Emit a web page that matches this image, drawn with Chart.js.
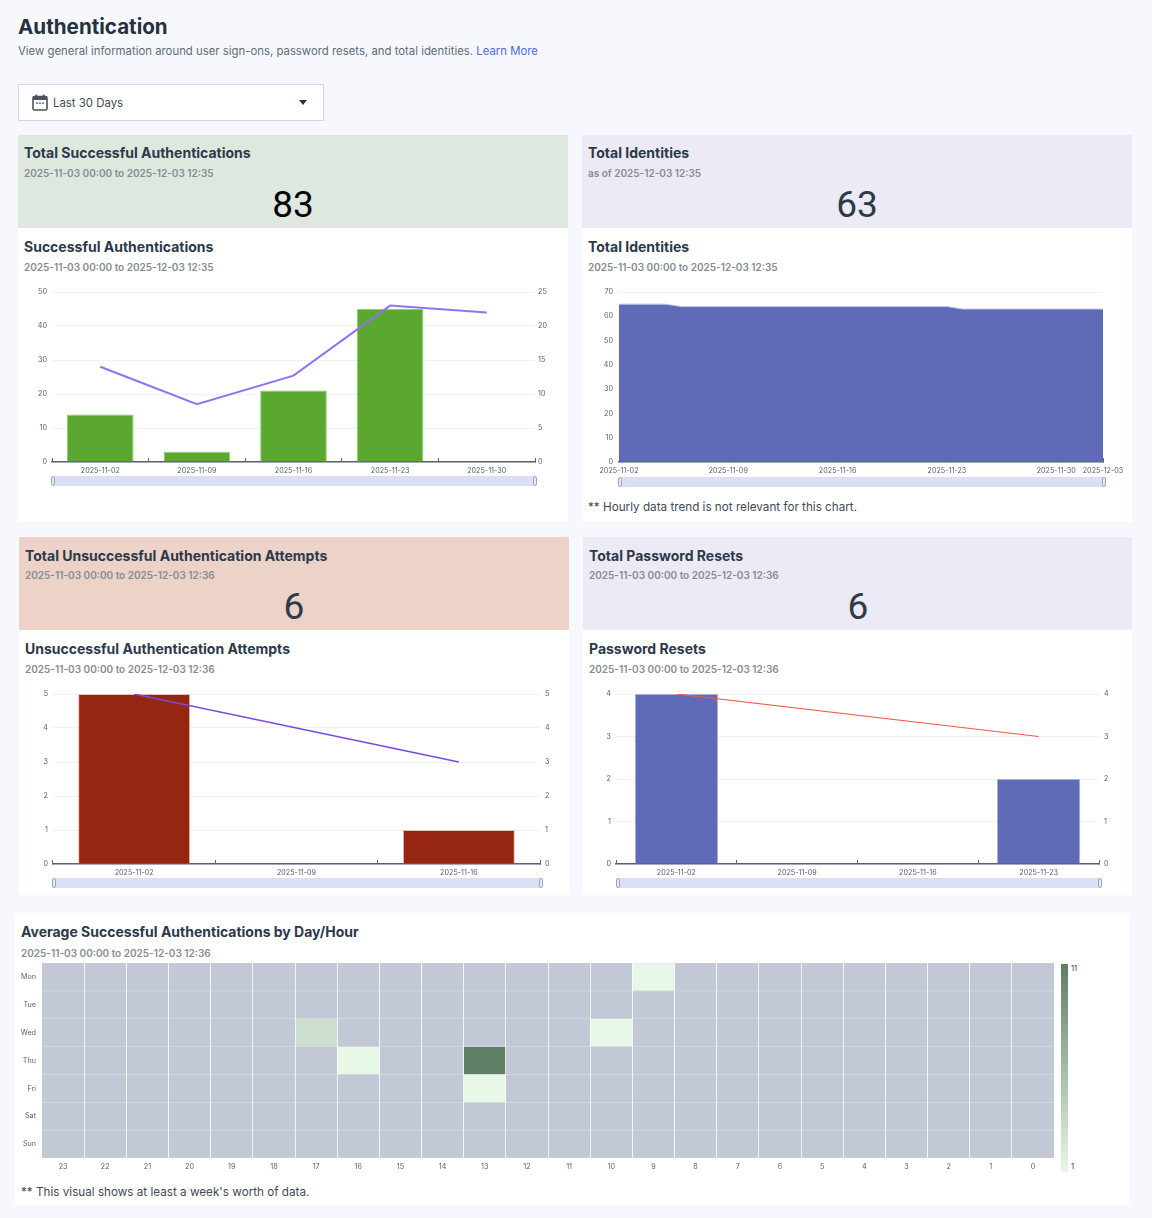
<!DOCTYPE html>
<html>
<head>
<meta charset="utf-8">
<title>Authentication</title>
<script src="https://cdn.jsdelivr.net/npm/chart.js@4/dist/chart.umd.js"></script>
<style>
  html, body { margin: 0; padding: 0; }
  body { width: 1152px; height: 1218px; background: #f6f8fe; position: relative; overflow: hidden;
         font-family: Inter, "Noto Sans", sans-serif; color: #2b3a4a; }
  .abs { position: absolute; white-space: nowrap; }
  canvas { position: absolute; }
  h1 { position: absolute; left: 18px; top: 14px; margin: 0; font-size: 20.6px; line-height: 26px; font-weight: 700; color: #243240; }
  .sub { left: 18px; top: 44px; font-size: 11.36px; line-height: 15px; color: #5f6b78; }
  .sub a { color: #5468e0; text-decoration: none; }
  .select { position: absolute; left: 18px; top: 84px; width: 304px; height: 35px; background: #fff; border: 1px solid #d3d6dc; }
  .select span { position: absolute; left: 34px; top: 11px; font-size: 11.4px; line-height: 15px; color: #3f4a57; }
  .select svg { position: absolute; left: 13px; top: 9px; }
  .caret { position: absolute; left: 280px; top: 15px; width: 0; height: 0; border-left: 4.5px solid transparent; border-right: 4.5px solid transparent; border-top: 5px solid #2d3640; }
  .kpi, .card { position: absolute; }
  .t { position: absolute; white-space: nowrap; font-size: 14px; line-height: 18px; font-weight: 700; color: #2b3a4a; }
  .d { position: absolute; white-space: nowrap; font-size: 10px; line-height: 13px; font-weight: 600; color: #858c96; }
  .n { position: absolute; text-align: center; font-family: Roboto, sans-serif; font-size: 37px; line-height: 40px; font-weight: 400; color: #2d3b4a; width: 100px; }
  .note { position: absolute; white-space: nowrap; font-size: 11.7px; line-height: 15px; color: #3f4a57; }
  .slider { position: absolute; height: 10px; background: #dadff6; }
  .slider i { position: absolute; top: 0; width: 2px; height: 8px; border: 1px solid #a0a6bb; border-radius: 2px; background: #e6e9f5; }
  .slider i.l { left: -2px; } .slider i.r { right: -2px; }
  .colorbar { position: absolute; left: 1061px; top: 964px; width: 7px; height: 208px; background: linear-gradient(#5f7f64, #e7f7e8); }
  .cb { position: absolute; left: 1071px; font-size: 7.5px; line-height: 9px; color: #333; }
</style>
</head>
<body>
<h1>Authentication</h1>
<div class="abs sub">View general information around user sign-ons, password resets, and total identities. <a>Learn More</a></div>
<div class="select">
  <svg width="16" height="17" viewBox="0 0 16 17"><rect x="1" y="2.5" width="14" height="13.5" rx="1.5" fill="#fff" stroke="#4a5260" stroke-width="1.6"/><rect x="1" y="2.5" width="14" height="3.5" fill="#4a5260"/><rect x="3.5" y="0.5" width="1.6" height="3" fill="#4a5260"/><rect x="10.9" y="0.5" width="1.6" height="3" fill="#4a5260"/><rect x="4" y="8.5" width="2" height="1.2" fill="#4a5260"/><rect x="7" y="8.5" width="2" height="1.2" fill="#4a5260"/><rect x="10" y="8.5" width="2" height="1.2" fill="#4a5260"/></svg>
  <span>Last 30 Days</span><div class="caret"></div>
</div>

<div class="kpi" style="left:18px;top:135px;width:550px;height:93px;background:#dfe8df"></div>
<div class="card" style="left:18px;top:228px;width:550px;height:294px;background:#fff"></div>
<div class="kpi" style="left:582px;top:135px;width:550px;height:93px;background:#eceaf5"></div>
<div class="card" style="left:582px;top:228px;width:550px;height:294px;background:#fff"></div>
<div class="kpi" style="left:19px;top:537px;width:550px;height:93px;background:#ecd2c7"></div>
<div class="card" style="left:19px;top:630px;width:550px;height:265px;background:#fff"></div>
<div class="kpi" style="left:583px;top:537px;width:549px;height:93px;background:#eceaf5"></div>
<div class="card" style="left:583px;top:630px;width:549px;height:265px;background:#fff"></div>
<div class="card" style="left:15px;top:913px;width:1114px;height:292px;background:#fff"></div>

<div class="t" style="left:24px;top:144px">Total Successful Authentications</div>
<div class="d" style="left:24px;top:167px">2025-11-03 00:00 to 2025-12-03 12:35</div>
<div class="n" style="left:243px;top:185px;color:#000">83</div>
<div class="t" style="left:24px;top:238px">Successful Authentications</div>
<div class="d" style="left:24px;top:261px">2025-11-03 00:00 to 2025-12-03 12:35</div>

<div class="t" style="left:588px;top:144px">Total Identities</div>
<div class="d" style="left:588px;top:167px">as of 2025-12-03 12:35</div>
<div class="n" style="left:807px;top:185px">63</div>
<div class="t" style="left:588px;top:238px">Total Identities</div>
<div class="d" style="left:588px;top:261px">2025-11-03 00:00 to 2025-12-03 12:35</div>
<div class="note" style="left:588px;top:500px">** Hourly data trend is not relevant for this chart.</div>

<div class="t" style="left:25px;top:547px">Total Unsuccessful Authentication Attempts</div>
<div class="d" style="left:25px;top:569px">2025-11-03 00:00 to 2025-12-03 12:36</div>
<div class="n" style="left:244px;top:587px">6</div>
<div class="t" style="left:25px;top:640px">Unsuccessful Authentication Attempts</div>
<div class="d" style="left:25px;top:663px">2025-11-03 00:00 to 2025-12-03 12:36</div>

<div class="t" style="left:589px;top:547px">Total Password Resets</div>
<div class="d" style="left:589px;top:569px">2025-11-03 00:00 to 2025-12-03 12:36</div>
<div class="n" style="left:808px;top:587px">6</div>
<div class="t" style="left:589px;top:640px">Password Resets</div>
<div class="d" style="left:589px;top:663px">2025-11-03 00:00 to 2025-12-03 12:36</div>

<div class="t" style="left:21px;top:923px">Average Successful Authentications by Day/Hour</div>
<div class="d" style="left:21px;top:947px">2025-11-03 00:00 to 2025-12-03 12:36</div>
<div class="note" style="left:21px;top:1185px">** This visual shows at least a week's worth of data.</div>

<canvas id="successChart" width="540" height="200" style="left:24px;top:284px"></canvas>
<canvas id="identityChart" width="540" height="200" style="left:590px;top:284px"></canvas>
<canvas id="failChart" width="540" height="193" style="left:25px;top:686px"></canvas>
<canvas id="resetChart" width="540" height="193" style="left:588px;top:686px"></canvas>
<canvas id="heatChart" width="1045" height="225" style="left:15px;top:955px"></canvas>

<div class="slider" style="left:53px;top:476px;width:482px"><i class="l"></i><i class="r"></i></div>
<div class="slider" style="left:620px;top:477px;width:484px"><i class="l"></i><i class="r"></i></div>
<div class="slider" style="left:54px;top:878px;width:487px"><i class="l"></i><i class="r"></i></div>
<div class="slider" style="left:618px;top:878px;width:482px"><i class="l"></i><i class="r"></i></div>

<div class="colorbar"></div>
<div class="cb" style="top:964px">11</div>
<div class="cb" style="top:1162px">1</div>

<script>
/*------------------------------Data------------------------------------*/
const successWeeks = ["2025-11-02", "2025-11-09", "2025-11-16", "2025-11-23", "2025-11-30"];
const successCounts = [14, 3, 21, 45, null];
const successTrend = [14, 8.5, 12.7, 23, 22];

const identityDays = ["2025-11-02", "2025-11-03", "2025-11-04", "2025-11-05", "2025-11-06", "2025-11-07", "2025-11-08", "2025-11-09",
  "2025-11-10", "2025-11-11", "2025-11-12", "2025-11-13", "2025-11-14", "2025-11-15", "2025-11-16", "2025-11-17",
  "2025-11-18", "2025-11-19", "2025-11-20", "2025-11-21", "2025-11-22", "2025-11-23", "2025-11-24", "2025-11-25",
  "2025-11-26", "2025-11-27", "2025-11-28", "2025-11-29", "2025-11-30", "2025-12-01", "2025-12-02", "2025-12-03"];
const identityCounts = [65, 65, 65, 65, 64, 64, 64, 64, 64, 64, 64, 64, 64, 64, 64, 64,
  64, 64, 64, 64, 64, 64, 63, 63, 63, 63, 63, 63, 63, 63, 63, 63];
const identityTicks = ["2025-11-02", "2025-11-09", "2025-11-16", "2025-11-23", "2025-11-30", "2025-12-03"];

const failWeeks = ["2025-11-02", "2025-11-09", "2025-11-16"];
const failCounts = [5, null, 1];
const failTrend = [5, null, 3];

const resetWeeks = ["2025-11-02", "2025-11-09", "2025-11-16", "2025-11-23"];
const resetCounts = [4, null, null, 2];
const resetTrend = [4, null, null, 3];

const heatHours = ["23", "22", "21", "20", "19", "18", "17", "16", "15", "14", "13", "12", "11", "10", "9", "8", "7", "6", "5", "4", "3", "2", "1", "0"];
const heatDays = ["Mon", "Tue", "Wed", "Thu", "Fri", "Sat", "Sun"];
const monCells = [0, 0, 0, 0, 0, 0, 0, 0, 0, 0, 0, 0, 0, 0, 1, 0, 0, 0, 0, 0, 0, 0, 0, 0];
const tueCells = [0, 0, 0, 0, 0, 0, 0, 0, 0, 0, 0, 0, 0, 0, 0, 0, 0, 0, 0, 0, 0, 0, 0, 0];
const wedCells = [0, 0, 0, 0, 0, 0, 3, 0, 0, 0, 0, 0, 0, 1, 0, 0, 0, 0, 0, 0, 0, 0, 0, 0];
const thuCells = [0, 0, 0, 0, 0, 0, 0, 1, 0, 0, 11, 0, 0, 0, 0, 0, 0, 0, 0, 0, 0, 0, 0, 0];
const friCells = [0, 0, 0, 0, 0, 0, 0, 0, 0, 0, 1, 0, 0, 0, 0, 0, 0, 0, 0, 0, 0, 0, 0, 0];
const satCells = [0, 0, 0, 0, 0, 0, 0, 0, 0, 0, 0, 0, 0, 0, 0, 0, 0, 0, 0, 0, 0, 0, 0, 0];
const sunCells = [0, 0, 0, 0, 0, 0, 0, 0, 0, 0, 0, 0, 0, 0, 0, 0, 0, 0, 0, 0, 0, 0, 0, 0];
const heatRows = [monCells, tueCells, wedCells, thuCells, friCells, satCells, sunCells];

/*------------------------------Shared axis helpers------------------------------------*/
const tickFont = { family: "Inter", size: 7.2 };
const tickColor = "#5b6068";
// fixed axis sizes so the plot areas land where they should, no auto padding from labels
const fitWidth = w => (axis => { axis.width = w; axis.paddingTop = 0; axis.paddingBottom = 0; });
const fitHeight = h => (axis => { axis.height = h; axis.paddingLeft = 0; axis.paddingRight = 0; });

function bottomAxis(height) {
  return {
    afterFit: fitHeight(height),
    grid: { drawOnChartArea: false, tickLength: -4, tickColor: "#5c6270", tickWidth: 1 },
    border: { color: "#5c6270", width: 1.5 },
    ticks: { font: tickFont, color: tickColor, padding: 9, maxRotation: 0, autoSkip: false }
  };
}
function leftAxis(width, max, step, pad) {
  return {
    position: "left", min: 0, max: max,
    afterFit: fitWidth(width),
    grid: { color: "#f0f1f3", drawTicks: false },
    border: { display: false },
    ticks: { font: tickFont, color: tickColor, padding: pad, stepSize: step }
  };
}
function rightAxis(width, max, step, pad) {
  return {
    position: "right", min: 0, max: max,
    afterFit: fitWidth(width),
    grid: { drawOnChartArea: false, drawTicks: false },
    border: { display: false },
    ticks: { font: tickFont, color: tickColor, padding: pad, stepSize: step }
  };
}

function comboChart(id, weeks, counts, trend, barColor, barEdge, lineColor, lineWidth, maxL, stepL, maxR, stepR, sides) {
  return new Chart(document.getElementById(id), {
    type: "bar",
    data: {
      labels: weeks,
      datasets: [
        { type: "line", label: "Trend", data: trend, yAxisID: "yR", borderColor: lineColor, borderWidth: lineWidth,
          pointRadius: 0, tension: 0, spanGaps: true, fill: false, order: 0 },
        { type: "bar", label: "Count", data: counts, yAxisID: "y", backgroundColor: barColor, borderColor: barEdge, borderWidth: 1,
          categoryPercentage: 1, barPercentage: 0.69, order: 1 }
      ]
    },
    options: {
      responsive: false, animation: false,
      layout: { autoPadding: false, padding: { top: 8, left: 0, right: 0, bottom: 0 } },
      plugins: { legend: { display: false }, tooltip: { enabled: false } },
      scales: {
        x: bottomAxis(sides.bottom),
        y: leftAxis(sides.left, maxL, stepL, 5),
        yR: rightAxis(sides.right, maxR, stepR, sides.rightPad)
      }
    }
  });
}

/*------------------------------Successful authentications------------------------------------*/
comboChart("successChart", successWeeks, successCounts, successTrend, "#5aa830", "#8fd070", "#8f72f5", 2, 50, 10, 25, 5,
  { left: 28, right: 29, bottom: 22, rightPad: 3 });

/*------------------------------Unsuccessful authentications------------------------------------*/
comboChart("failChart", failWeeks, failCounts, failTrend, "#962511", "#e2bdb5", "#7a4ae0", 1.5, 5, 1, 5, 1,
  { left: 28, right: 25, bottom: 15, rightPad: 5 });

/*------------------------------Password resets------------------------------------*/
comboChart("resetChart", resetWeeks, resetCounts, resetTrend, "#5f6ab8", "#a9b0dc", "#ef5a45", 1.2, 4, 1, 4, 1,
  { left: 28, right: 29, bottom: 15, rightPad: 5 });

/*------------------------------Total identities------------------------------------*/
const identityX = bottomAxis(22);
identityX.offset = false;
identityX.grid.offset = false;
identityX.afterBuildTicks = axis => {
  axis.ticks = axis.ticks.filter(t => identityTicks.includes(identityDays[t.value]));
};
new Chart(document.getElementById("identityChart"), {
  type: "line",
  data: {
    labels: identityDays,
    datasets: [{ label: "Identities", data: identityCounts, fill: "origin", backgroundColor: "rgba(86,98,180,0.94)",
      borderColor: "#c3c7e6", borderWidth: 1, pointRadius: 0, tension: 0 }]
  },
  options: {
    responsive: false, animation: false,
    layout: { autoPadding: false, padding: { top: 8, right: 27 } },
    plugins: { legend: { display: false }, tooltip: { enabled: false } },
    scales: { x: identityX, y: leftAxis(29, 70, 10, 6) }
  }
});

/*------------------------------Heatmap by day/hour------------------------------------*/
const lowColor = [231, 247, 232], highColor = [95, 127, 100];
function heatColor(v) {
  if (!v) return "#c2c8d5";
  const f = (v - 1) / 10;
  const c = lowColor.map((l, i) => Math.round(l + (highColor[i] - l) * f));
  return "rgb(" + c.join(",") + ")";
}
new Chart(document.getElementById("heatChart"), {
  type: "bar",
  data: {
    labels: heatHours,
    datasets: heatDays.map((day, r) => ({
      label: day,
      data: heatRows[r].map(() => 1),
      stack: "days",
      backgroundColor: ctx => heatColor(heatRows[r][ctx.dataIndex]),
      borderColor: "#d5d8e1",
      borderWidth: { top: 0.7, bottom: 0.7, left: 0, right: 0 },
      borderSkipped: false,
      categoryPercentage: 1, barPercentage: 1
    }))
  },
  options: {
    responsive: false, animation: false,
    layout: { autoPadding: false, padding: { top: 8, right: 6 } },
    plugins: { legend: { display: false }, tooltip: { enabled: false } },
    scales: {
      x: {
        stacked: true,
        afterFit: fitHeight(22),
        grid: { display: true, z: 1, drawTicks: false, color: "rgba(255,255,255,0.75)" },
        border: { display: false },
        ticks: { font: tickFont, color: tickColor, padding: 5, maxRotation: 0, autoSkip: false }
      },
      y: {
        stacked: true, reverse: true, min: 0, max: 7,
        afterFit: fitWidth(27),
        afterBuildTicks: axis => { axis.ticks = heatDays.map((d, i) => ({ value: i + 0.5 })); },
        grid: { display: false, drawTicks: false },
        border: { display: false },
        ticks: { font: tickFont, color: tickColor, padding: 6,
          callback: value => heatDays[Math.floor(value)] }
      }
    }
  }
});
</script>
</body>
</html>
